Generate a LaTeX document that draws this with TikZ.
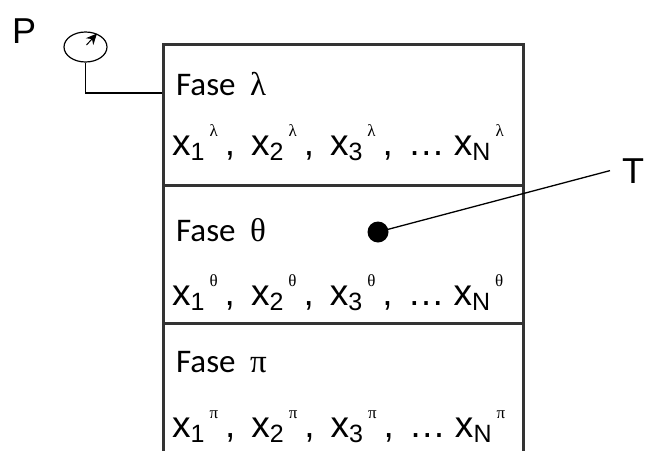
\documentclass[tikz,border=0pt]{standalone}
\usepackage{fontspec}
\setmainfont{Carlito}
\newfontfamily\arialf{Liberation Sans}
\newfontfamily\grkf{Liberation Serif}
\usetikzlibrary{shapes.geometric,arrows.meta}

% one variable with its index and the phase as upper mark
\newcommand{\xvar}[2]{x\raisebox{-5pt}{\fontsize{25}{25}\selectfont #1}%
  \hspace{5pt}\raisebox{19pt}{\grkf\fontsize{17}{17}\selectfont #2}}
\newcommand{\xrow}[1]{\xvar{1}{#1}\hspace{7pt},\hspace{16pt}%
  \xvar{2}{#1}\hspace{7pt},\hspace{16pt}%
  \xvar{3}{#1}\hspace{7pt},\hspace{15pt}…\hspace{9pt}\xvar{N}{#1}}

\tikzset{
  fasebox/.style={draw=black!80, line width=2.8pt, minimum width=360pt,
    inner sep=0pt, anchor=north west},
  fasename/.style={anchor=base west, inner sep=0pt,
    font=\fontsize{33}{36}\selectfont},
  fasevars/.style={anchor=base west, inner sep=0pt,
    font=\arialf\fontsize{37}{42}\selectfont},
  biglabel/.style={anchor=base west, inner sep=0pt,
    font=\arialf\fontsize{36}{40}\selectfont},
}

\begin{document}
\begin{tikzpicture}[x=1pt, y=-1pt, >=Stealth]

    \clip (0,0) rectangle (645,450);
    \useasboundingbox (0,0) rectangle (645,450);

    % the three phases
    \foreach \nm/\gk/\ytop/\hgt/\yname/\yvars in
        {lam/λ/43/141/95/155, thet/θ/184/138/241/305, pi/π/322/150/372/437} {
        \node[fasebox, minimum height=\hgt pt] (\nm) at (162,\ytop) {};
        \node[fasename] (\nm-name) at (176,\yname) {Fase~\hspace{7pt}{\grkf \gk}};
        \node[fasevars] (\nm-vars) at (172,\yvars) {\xrow{\gk}};
    }

    % pressure gauge
    \node[biglabel] (P) at (12,43) {P};
    \node[
        ellipse,
        draw,
        line width=1.2pt,
        minimum width=43pt,
        minimum height=30pt,
        inner sep=0pt
    ] (gauge) at (85.5,47) {};
    \draw[
        -{Stealth[length=11pt, width=10pt]},
        line width=1pt
    ] ([shift={(1,-2)}]gauge.center) -- ([shift={(11.5,-13.5)}]gauge.center);
    \coordinate (tap) at (162,93);
    \draw[line width=1.3pt] (gauge.south) |- (tap);

    % temperature
    \node[biglabel, inner xsep=12pt] (T) at (610,183) {T};
    \node[circle, fill, minimum size=21pt, inner sep=0pt] (dot) at (378,232) {};
    \draw[line width=1.3pt] (dot.center) -- (T.west);

\end{tikzpicture}
\end{document}
